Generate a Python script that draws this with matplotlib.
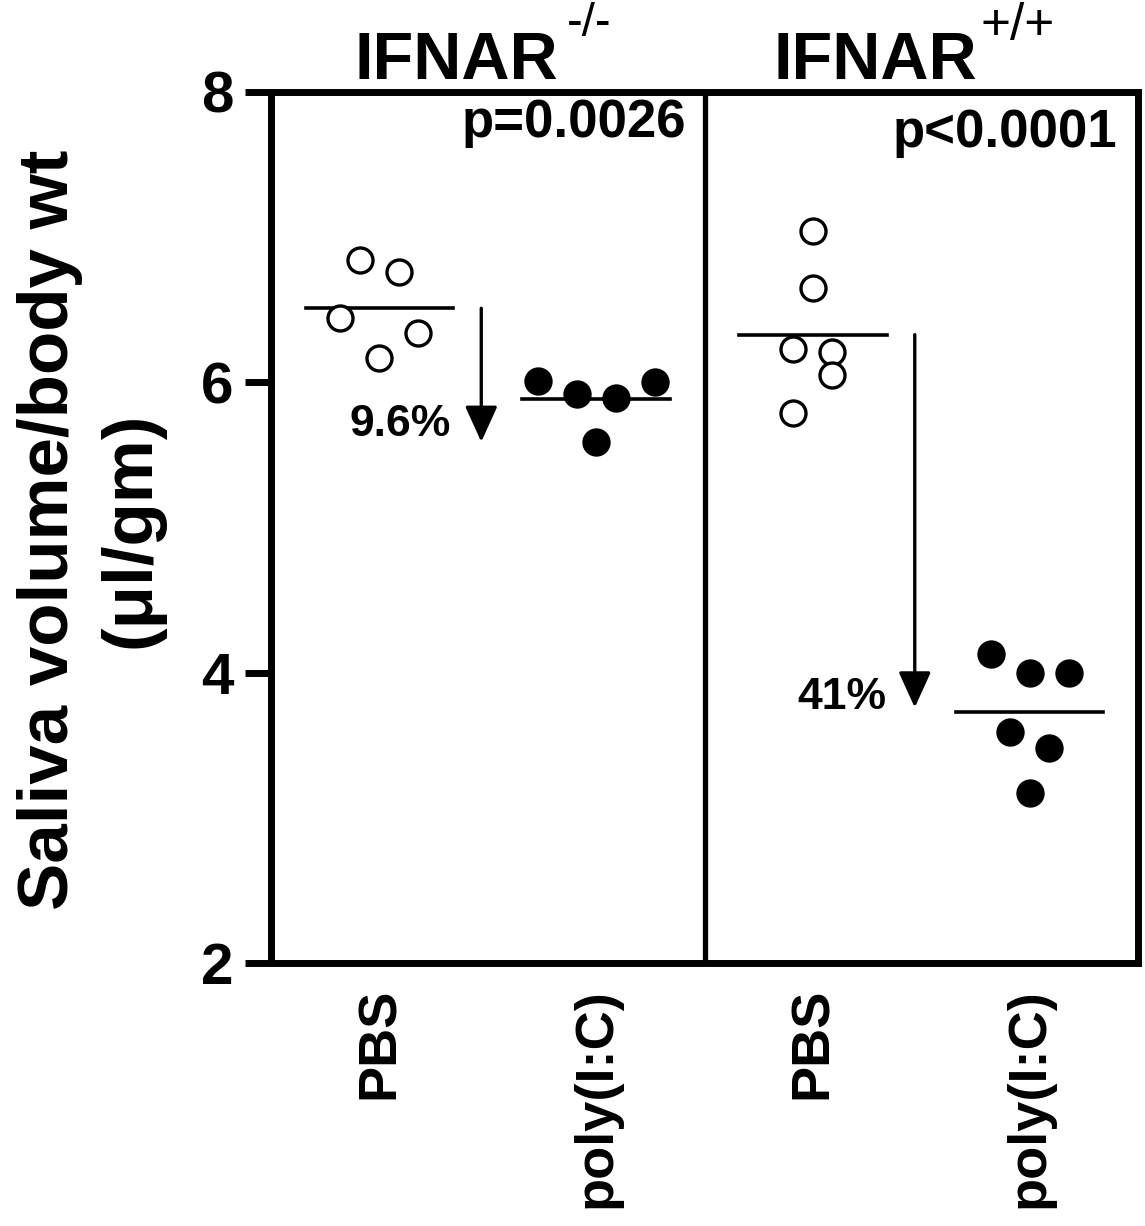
import matplotlib
matplotlib.use("Agg")
import matplotlib.pyplot as plt
import matplotlib.transforms as mtransforms

plt.rcParams.update({"font.family": ["Liberation Sans", "DejaVu Sans"],
                     "font.weight": "bold"})

# ---- data ----
groups = ["PBS", "poly(I:C)", "PBS", "poly(I:C)"]
filled = [False, True, False, True]
values = [
    [6.84, 6.76, 6.44, 6.34, 6.17],
    [6.01, 5.92, 5.89, 6.00, 5.59],
    [7.04, 6.65, 6.23, 6.21, 6.05, 5.79],
    [4.13, 4.00, 4.00, 3.59, 3.48, 3.17],
]
jitter = [
    [-0.09, 0.09, -0.18, 0.18, 0.0],
    [-0.27, -0.09, 0.09, 0.27, 0.0],
    [0.0, 0.0, -0.09, 0.09, 0.09, -0.09],
    [-0.18, 0.0, 0.18, -0.09, 0.09, 0.0],
]
genotypes = ["IFNAR", "IFNAR"]
superscripts = ["-/-", "+/+"]
p_values = ["p=0.0026", "p<0.0001"]
drops = ["9.6%", "41%"]
arrow_tips = [5.59, 3.76]
yticks = [2, 4, 6, 8]

fig = plt.figure(figsize=(11.45, 12.26), dpi=100)
ax = fig.add_axes([0.2367, 0.2145, 0.9939 - 0.2367, 0.925 - 0.2145])

means = []
for i, (vals, jit) in enumerate(zip(values, jitter)):
    xs = [i + j for j in jit]
    ax.plot(xs, vals, "o", ls="none", ms=18, mew=2.4, mec="k",
            mfc="k" if filled[i] else "white", zorder=3)
    m = sum(vals) / len(vals)
    means.append(m)
    ax.plot([i - 0.34, i + 0.34], [m, m], color="k", lw=2.6, zorder=2)

# divider between genotypes
ax.axvline(1.5, color="k", lw=3.8)

# arrows from PBS mean down, with % drop labels
drop_y = [5.71, 3.83]
for k in range(2):
    x = 2 * k + 0.47
    ax.annotate("", xy=(x, arrow_tips[k]), xytext=(x, means[2 * k]),
                arrowprops=dict(arrowstyle="-|>,head_length=1.1,head_width=0.5",
                                lw=2.4, color="k", mutation_scale=20,
                                shrinkA=0, shrinkB=0))
    ax.text(2 * k + 0.33 + (0.01 if k else 0), drop_y[k], drops[k],
            ha="right", va="center", fontsize=32, fontweight="bold")

# p values
ax.text(1.413, 7.69, p_values[0], ha="right", va="baseline", fontsize=38)
ax.text(3.404, 7.62, p_values[1], ha="right", va="baseline", fontsize=38)

# genotype titles with superscripts
trans = mtransforms.blended_transform_factory(ax.transData, ax.transAxes)
title_x = [-0.115, 1.82]
sup_gap = [6, 2]
sup_size = [34, 37]
for k in range(2):
    t = ax.text(title_x[k], 1.015, genotypes[k], transform=trans, ha="left",
                va="baseline", fontsize=48, fontweight="bold", clip_on=False)
    ax.annotate(superscripts[k], xy=(1, 1), xycoords=t,
                xytext=(sup_gap[k], 21), textcoords="offset points",
                ha="left", va="top", fontsize=sup_size[k], fontweight="normal")

ax.set_xlim(-0.5, 3.5)
ax.set_ylim(2, 8)
ax.set_yticks(yticks)
ax.set_yticklabels([str(t) for t in yticks], fontsize=42, fontweight="bold")
ax.set_xticks(range(len(groups)))
ax.set_xticklabels(groups, rotation=90, fontsize=39, fontweight="bold",
                   va="top", ha="center")
ax.tick_params(axis="y", direction="out", length=19, width=5, pad=8)
ax.tick_params(axis="x", length=0, pad=18)
for s in ax.spines.values():
    s.set_linewidth(5)

fig.text(0.079, 0.568, "Saliva volume/body wt\n(\u03bcl/gm)", rotation=90,
         ha="center", va="center", multialignment="center", fontsize=51,
         fontweight="bold", linespacing=1.3)

fig.savefig("out.png", dpi=100)
